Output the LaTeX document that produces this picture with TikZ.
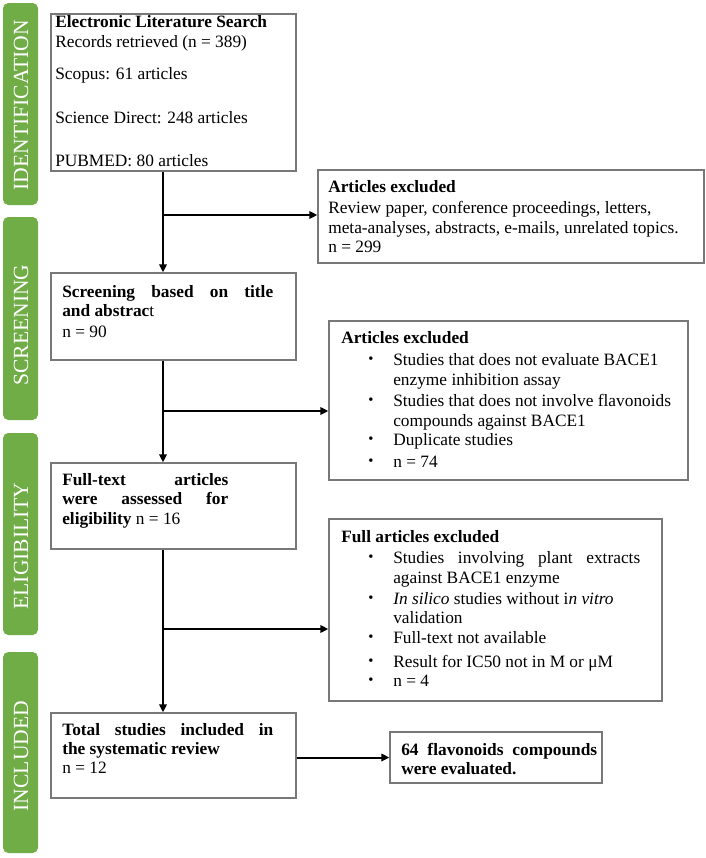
\documentclass[tikz,border=0pt]{standalone}
\usepackage{fontspec}
\setmainfont{Liberation Serif}
\usetikzlibrary{arrows.meta,fit}
\definecolor{bargreen}{HTML}{70AD47}
\definecolor{boxgray}{HTML}{787878}
\tikzset{
 box/.style={draw=boxgray, line width=0.9pt, inner sep=0pt, fill=white},
 bar/.style={fill=bargreen, rounded corners=4pt, inner sep=0pt, draw=none},
 bartext/.style={rotate=90, text=white, font=\fontsize{16.2}{16}\selectfont, inner sep=0pt},
 txt/.style={anchor=base west, inner sep=0pt, font=\fontsize{13}{15}\selectfont},
 blt/.style={anchor=base west, inner sep=0pt, font=\fontsize{11}{11}\selectfont},
 conn/.style={line width=1.5pt},
 arr/.style={conn, -{Triangle[length=6pt,width=5.5pt]}},
}
\newcommand\jst[2]{\makebox[#1][s]{#2}}
\begin{document}
\begin{tikzpicture}[x=0.75pt,y=-0.75pt]
\useasboundingbox (0,0) rectangle (706,858);
% side bars
\node[bar, fit={(3,3) (38,205)}] (g1) {};
\node[bar, fit={(3,217) (38,420)}] (g2) {};
\node[bar, fit={(3,433) (38,635)}] (g3) {};
\node[bar, fit={(3,652) (38,853)}] (g4) {};
\node[bartext] (t1) at (21,105) {IDENTIFICATION};
\node[bartext] (t2) at (21,325) {SCREENING};
\node[bartext] (t3) at (21,546) {ELIGIBILITY};
\node[bartext] (t4) at (21,756) {INCLUDED};
% boxes
\node[box, fit={(51,14) (296,171)}] (b1) {};
\node[box, fit={(318,170) (704,263)}] (e1) {};
\node[box, fit={(51,273) (296,360)}] (b2) {};
\node[box, fit={(329,321) (688,480)}] (e2) {};
\node[box, fit={(51,463) (296,549)}] (b3) {};
\node[box, fit={(329,519) (662,701)}] (e3) {};
\node[box, fit={(51,713) (296,798)}] (b4) {};
\node[box, fit={(390,732) (602,783)}] (b5) {};
% junctions
\coordinate (j1) at (163,215);
\coordinate (j2) at (163,411);
\coordinate (j3) at (163,629);
% connectors
\draw[arr] (b1.south -| j1) -- (b2.north -| j1);
\draw[arr] (b2.south -| j1) -- (b3.north -| j1);
\draw[arr] (b3.south -| j1) -- (b4.north -| j1);
\draw[arr] (j1) -- (j1 -| e1.west);
\draw[arr] (j2) -- (j2 -| e2.west);
\draw[arr] (j3) -- (j3 -| e3.west);
\draw[arr] (b5.west -| b4.east) -- (b5.west);
% box 1 text
\node[txt] (b1a) at (55,27) {\textbf{Electronic Literature Search}};
\node[txt] (b1b) at (55,47) {Records retrieved (n = 389)};
\node[txt] (b1c) at (55,79) {Scopus: 61 articles};
\node[txt] (b1d) at (55,123) {Science Direct: 248 articles};
\node[txt] (b1e) at (55,166) {PUBMED: 80 articles};
% excluded 1
\node[txt] (e1a) at (328,192) {\textbf{Articles excluded}};
\node[txt] (e1b) at (328,213) {Review paper, conference proceedings, letters,};
\node[txt] (e1c) at (328,233) {meta-analyses, abstracts, e-mails, unrelated topics.};
\node[txt] (e1d) at (328,252) {n = 299};
% box 2 text
\node[txt] (b2a) at (62,297) {\jst{158.25pt}{\textbf{Screening based on title}}};
\node[txt] (b2b) at (62,316) {\textbf{and abstrac}t};
\node[txt] (b2c) at (62,337) {n = 90};
% excluded 2
\node[txt] (e2a) at (341,343) {\textbf{Articles excluded}};
\node[blt] (e2p1) at (368,365) {\raisebox{1.5pt}{•}};
\node[txt] (e2b) at (393,365) {Studies that does not evaluate BACE1};
\node[txt] (e2c) at (393,385) {enzyme inhibition assay};
\node[blt] (e2p2) at (368,406) {\raisebox{1.5pt}{•}};
\node[txt] (e2d) at (393,406) {Studies that does not involve flavonoids};
\node[txt] (e2e) at (393,426) {compounds against BACE1};
\node[blt] (e2p3) at (368,445) {\raisebox{1.5pt}{•}};
\node[txt] (e2f) at (393,445) {Duplicate studies};
\node[blt] (e2p4) at (368,467) {\raisebox{1.5pt}{•}};
\node[txt] (e2g) at (393,467) {n = 74};
% box 3 text
\node[txt] (b3a) at (62,485) {\jst{124.5pt}{\textbf{Full-text articles}}};
\node[txt] (b3b) at (62,504) {\jst{124.5pt}{\textbf{were assessed for}}};
\node[txt] (b3c) at (62,524) {\textbf{eligibility} n = 16};
% excluded 3
\node[txt] (e3a) at (341,542) {\textbf{Full articles excluded}};
\node[blt] (e3p1) at (368,563) {\raisebox{1.5pt}{•}};
\node[txt] (e3b) at (393,563) {\jst{185.25pt}{Studies involving plant extracts}};
\node[txt] (e3c) at (393,583) {against BACE1 enzyme};
\node[blt] (e3p2) at (368,604) {\raisebox{1.5pt}{•}};
\node[txt] (e3d) at (393,604) {\textit{In silico} studies without i\textit{n vitro}};
\node[txt] (e3e) at (393,623) {validation};
\node[blt] (e3p3) at (368,643) {\raisebox{1.5pt}{•}};
\node[txt] (e3f) at (393,643) {Full-text not available};
\node[blt] (e3p4) at (368,667) {\raisebox{1.5pt}{•}};
\node[txt] (e3g) at (393,667) {Result for IC50 not in M or μM};
\node[blt] (e3p5) at (368,686) {\raisebox{1.5pt}{•}};
\node[txt] (e3h) at (393,686) {n = 4};
% box 4 text
\node[txt] (b4a) at (62,735) {\jst{158.25pt}{\textbf{Total studies included in}}};
\node[txt] (b4b) at (62,754) {\textbf{the systematic review}};
\node[txt] (b4c) at (62,773) {n = 12};
% box 5 text
\node[txt] (b5a) at (401,755) {\jst{147pt}{\textbf{64 flavonoids compounds}}};
\node[txt] (b5b) at (401,774) {\textbf{were evaluated.}};
\end{tikzpicture}
\end{document}
